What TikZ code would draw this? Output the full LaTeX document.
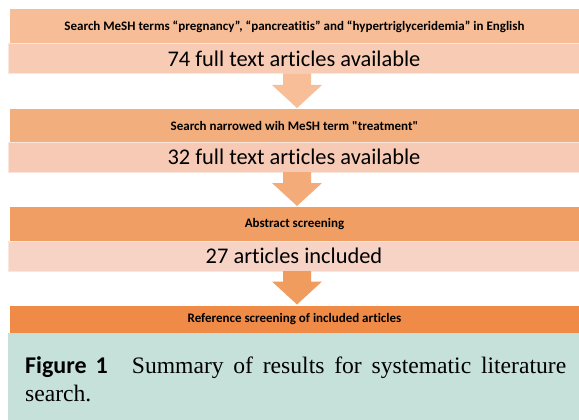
\documentclass[tikz,border=0pt]{standalone}
\usepackage{fontspec}
\setmainfont{Liberation Serif}
\newfontfamily\carlito[Ligatures=NoCommon]{Carlito}
\usetikzlibrary{calc}
\definecolor{hA}{HTML}{F6BD96}
\definecolor{vA}{HTML}{F8CBB4}
\definecolor{aA}{HTML}{F7BE98}
\definecolor{hB}{HTML}{F3AE7D}
\definecolor{vB}{HTML}{F7CAB5}
\definecolor{aB}{HTML}{F3AC79}
\definecolor{hC}{HTML}{F19E64}
\definecolor{vC}{HTML}{F7D3C6}
\definecolor{aC}{HTML}{F09C5E}
\definecolor{hD}{HTML}{EF8B46}
\definecolor{capbg}{HTML}{C5E1D9}
\definecolor{vline}{HTML}{FBE6DC}
\tikzset{
  x=1pt, y=-1pt,
  hbox/.style={anchor=north west, minimum width=570pt, inner sep=0pt, outer sep=0pt,
    font=\carlito\bfseries\fontsize{13}{15}\selectfont, text=black},
  vbox/.style={anchor=north west, minimum width=572pt, minimum height=30pt, inner sep=0pt, outer sep=0pt,
    draw=vline, line width=0.8pt, font=\carlito\fontsize{22.4}{24}\selectfont, text=black},
}
\newcommand{\flowarrow}[3]{%
  \fill[#3] let \p1=(#1.south), \p2=(#2.north) in
    (\x1-11pt,\y1) -- (\x1+17pt,\y1) -- (\x1+17pt,\y2+24pt) -- (\x1+28pt,\y2+24pt)
    -- (\x1+3pt,\y2+1pt) -- (\x1-22pt,\y2+24pt) -- (\x1-11pt,\y2+24pt) -- cycle;}
\begin{document}
\begin{tikzpicture}
\useasboundingbox (0,0) rectangle (579,420);
\fill[white] (0,0) rectangle (579,420);
% caption background
\fill[capbg] (8,333) rectangle (580,421);
% boxes
\node[hbox, fill=hA, minimum height=34pt] (h1) at (9.5,9.5) {Search MeSH terms “pregnancy”, “pancreatitis” and “hypertriglyceridemia” in English};
\node[vbox, fill=vA] (v1) at (8,43.5) {74 full text articles available};
\node[hbox, fill=hB, minimum height=33pt] (h2) at (9.5,109) {Search narrowed wih MeSH term "treatment"};
\node[vbox, fill=vB] (v2) at (8,142) {32 full text articles available};
\node[hbox, fill=hC, minimum height=34pt] (h3) at (9.5,207) {Abstract screening};
\node[vbox, fill=vC] (v3) at (8,241) {27 articles included};
\node[hbox, fill=hD, minimum height=27pt] (h4) at (9.5,305.5) {Reference screening of included articles};
% arrows
\flowarrow{v1}{h2}{aA}
\flowarrow{v2}{h3}{aB}
\flowarrow{v3}{h4}{aC}
% caption
\node[anchor=north west, inner sep=0pt, text width=541pt, align=justify,
  font=\fontsize{23.6}{28}\selectfont] (cap) at (25,356)
  {{\carlito\bfseries\fontsize{24}{28}\selectfont Figure 1}\hspace{24pt}Summary of results for systematic literature search.};
\end{tikzpicture}
\end{document}
